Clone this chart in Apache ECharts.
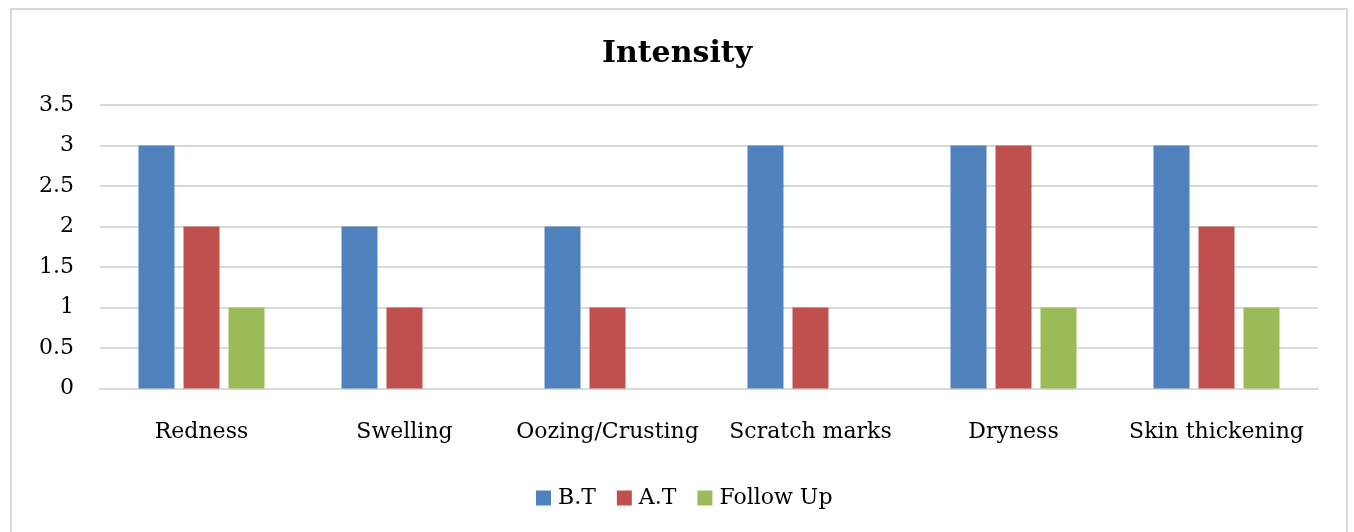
<!DOCTYPE html>
<html><head><meta charset="utf-8">
<script src="https://cdn.jsdelivr.net/npm/echarts@6/dist/echarts.min.js"></script>
<style>html,body{margin:0;padding:0;background:#fff}#c{width:1354px;height:532px}</style>
</head><body><div id="c"></div>
<script>
const categories = ['Redness','Swelling','Oozing/Crusting','Scratch marks','Dryness','Skin thickening'];
const bt = [3,2,2,3,3,3];
const at = [2,1,1,1,3,2];
const followUp = [1,null,null,null,1,1];
const seriesNames = ['B.T','A.T','Follow Up'];
const colors = ['#4f81bd','#c0504d','#9bbb59'];
const font = '"DejaVu Serif", serif';
const chart = echarts.init(document.getElementById('c'), null, {renderer:'canvas'});
chart.setOption({
  animation:false,
  color: colors,
  graphic:[{type:'rect', shape:{x:11,y:9,width:1336,height:540}, style:{fill:'none', stroke:'#d9d9d9', lineWidth:2}, silent:true}],
  title:{text:'Intensity', left:'center', top:34, textStyle:{fontFamily:font, fontSize:30, fontWeight:'bold', color:'#000'}},
  grid:{left:100, right:36, top:105, bottom:143.5, containLabel:false},
  legend:{bottom:18, left:531, itemWidth:15, itemHeight:15, itemGap:21, icon:'rect',
    textStyle:{fontFamily:font, fontSize:22, color:'#000', padding:[0,0,0,2]}},
  xAxis:{type:'category', data:categories,
    axisLine:{lineStyle:{color:'#d9d9d9', width:2}}, axisTick:{show:false},
    axisLabel:{fontFamily:font, fontSize:22, color:'#000', margin:33, interval:0}},
  yAxis:{type:'value', min:0, max:3.5, interval:0.5,
    axisLine:{show:false}, axisTick:{show:false},
    splitLine:{lineStyle:{color:'#d9d9d9', width:2}},
    axisLabel:{fontFamily:font, fontSize:22, color:'#000', margin:26}},
  series:[
    {name:seriesNames[0], type:'bar', data:bt, barWidth:36, barGap:'25%'},
    {name:seriesNames[1], type:'bar', data:at, barWidth:36, barGap:'25%'},
    {name:seriesNames[2], type:'bar', data:followUp, barWidth:36, barGap:'25%'}
  ]
});
</script></body></html>
